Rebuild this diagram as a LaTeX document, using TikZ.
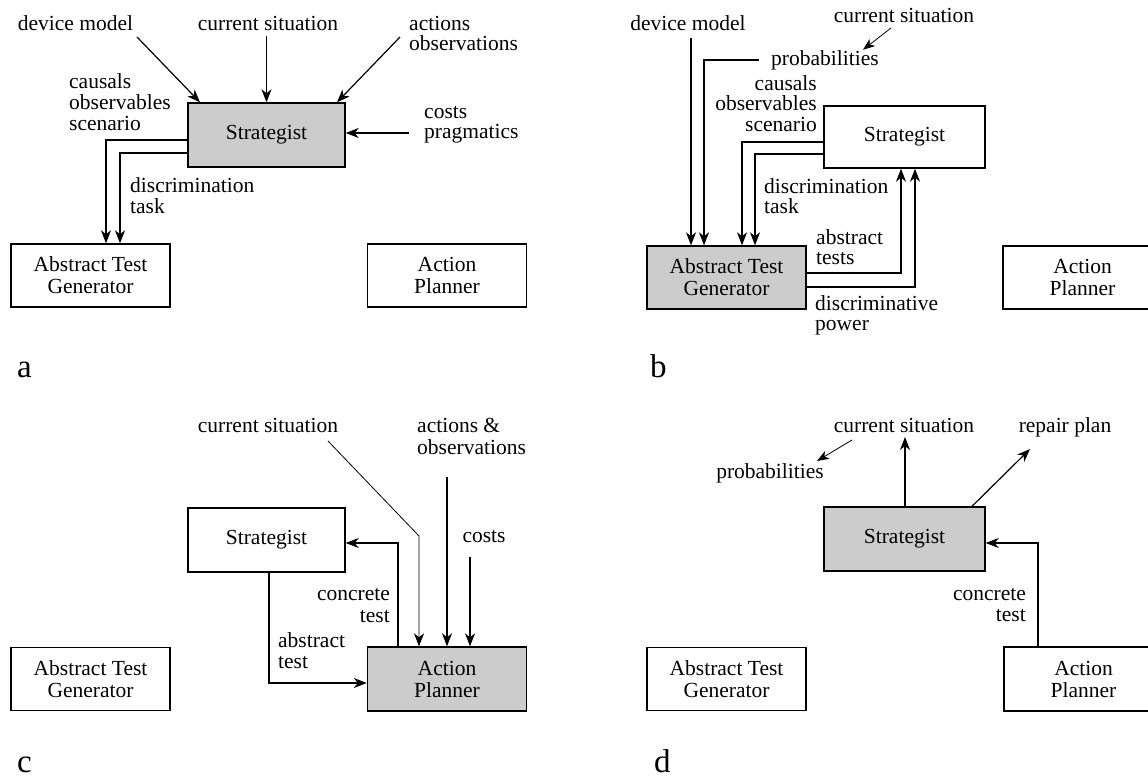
\documentclass[tikz,border=0pt]{standalone}
\usepackage{fontspec}
\setmainfont{Liberation Serif}
\usetikzlibrary{arrows.meta}
\newcommand\dgfont{\fontsize{21.5}{22}\selectfont}
\newcommand\dglabelfont{\fontsize{33}{34}\selectfont}
\tikzset{
  box/.style={draw, line width=1.4pt, minimum width=159pt, minimum height=63pt,
              inner sep=0pt, align=center, font=\dgfont, fill=white},
  shaded/.style={fill=black!20},
  txt/.style={inner sep=0pt, text height=15pt, text depth=5pt, font=\dgfont},
  panellbl/.style={inner sep=0pt, font=\dglabelfont, anchor=base west},
  arr/.style={-{Stealth[length=13pt,width=10pt,inset=4pt]}, line width=1.2pt},
  thinarr/.style={-{Stealth[length=12pt,width=9pt,inset=3.5pt]}, line width=0.8pt},
}
\begin{document}
\begin{tikzpicture}[x=1pt, y=-1pt]
\useasboundingbox (0,0) rectangle (1148,779);
\clip (0,0) rectangle (1148,779);

% ---------------- panel a ----------------
\node[box, shaded, minimum width=157pt, minimum height=64pt] (Sa) at (266.5,135) {Strategist};
\node[box] (ATGa) at (90.5,275.5) {Abstract Test\\Generator};
\node[box] (APa) at (447,275.5) {Action\\Planner};

\node[txt] (a-dm) at (75.5,25) {device model};
\node[txt] (a-cs) at (268,25) {current situation};
\node[txt, anchor=west] (a-act) at (409,25) {actions};
\node[txt, anchor=west] (a-obs) at (409,45) {observations};
\node[txt, anchor=west] (a-cost) at (424,113) {costs};
\node[txt, anchor=west] (a-prag) at (424,133) {pragmatics};
\node[txt, anchor=west] (a-caus) at (69,83) {causals};
\node[txt, anchor=west] (a-obsv) at (69,104) {observables};
\node[txt, anchor=west] (a-scen) at (69,125) {scenario};
\node[txt, anchor=west] (a-disc) at (130,187) {discrimination};
\node[txt, anchor=west] (a-task) at (130,208) {task};

\draw[arr] (137,37) -- (Sa.north west -| 200,0);
\draw[arr] (Sa.north |- 0,36) -- (Sa.north);
\draw[arr] (400,37) -- (Sa.north east -| 337,0);
\draw[arr] (a-prag.west) ++(-15,0) -- (Sa.east |- 0,133);
\draw[arr] (Sa.west |- 0,140) -| (ATGa.north -| 106,0);
\draw[arr] (Sa.west |- 0,153) -| (ATGa.north -| 120,0);

\node[panellbl] (la) at (17,377) {a};

% ---------------- panel b ----------------
\node[box, minimum width=161pt, minimum height=62pt] (Sb) at (904.5,137) {Strategist};
\node[box, shaded] (ATGb) at (726.5,277.5) {Abstract Test\\Generator};
\node[box] (APb) at (1082.5,277.5) {Action\\Planner};

\node[txt] (b-dm) at (688,25) {device model};
\node[txt] (b-cs) at (904,17) {current situation};
\node[txt, anchor=west] (b-prob) at (771,60) {probabilities};
\node[txt, anchor=east] (b-caus) at (817,85) {causals};
\node[txt, anchor=east] (b-obsv) at (817,105) {observables};
\node[txt, anchor=east] (b-scen) at (817,126) {scenario};
\node[txt, anchor=west] (b-disc) at (764,188) {discrimination};
\node[txt, anchor=west] (b-task) at (764,208) {task};
\node[txt, anchor=west] (b-abs) at (816,239) {abstract};
\node[txt, anchor=west] (b-tests) at (816,259) {tests};
\node[txt, anchor=west] (b-dpow) at (815,305) {discriminative};
\node[txt, anchor=west] (b-pow) at (815,325) {power};

\draw[thinarr] (891,28) -- (b-prob.north -| 863,0);
\draw[arr] (691,38) -- (ATGb.north -| 691,0);
\draw[arr] (b-prob.west) ++(-12,0) -| (ATGb.north -| 704,0);
\draw[arr] (Sb.west |- 0,142) -| (ATGb.north -| 742,0);
\draw[arr] (Sb.west |- 0,154) -| (ATGb.north -| 755,0);
\draw[arr] (ATGb.east |- 0,273) -| (Sb.south -| 901,0);
\draw[arr] (ATGb.east |- 0,287) -| (Sb.south -| 915,0);

\node[panellbl] (lb) at (650,377) {b};

% ---------------- panel c ----------------
\node[box, minimum width=157pt, minimum height=64pt] (Sc) at (266.5,540) {Strategist};
\node[box] (ATGc) at (90.5,679) {Abstract Test\\Generator};
\node[box, shaded, minimum height=64pt] (APc) at (447,679) {Action\\Planner};

\node[txt] (c-cs) at (268,427) {current situation};
\node[txt, anchor=west] (c-act) at (417,427) {actions \&};
\node[txt, anchor=west] (c-obs) at (417,449) {observations};
\node[txt] (c-cost) at (484,537) {costs};
\node[txt, anchor=east] (c-conc) at (390,595) {concrete};
\node[txt, anchor=east] (c-ctest) at (390,617) {test};
\node[txt, anchor=west] (c-abs) at (278,642) {abstract};
\node[txt, anchor=west] (c-atest) at (278,663) {test};

\draw[arr, line width=0.8pt] (328,441) -- (419,536) -- (APc.north -| 419,0);
\draw[arr] (447,477) -- (APc.north -| 447,0);
\draw[arr] (470,557) -- (APc.north -| 470,0);
\draw[arr] (APc.north -| 398,0) |- (Sc.east |- 0,543);
\draw[arr] (Sc.south -| 269,0) |- (APc.west |- 0,683);

\node[panellbl] (lc) at (17,772) {c};

% ---------------- panel d ----------------
\node[box, shaded, minimum width=161pt, minimum height=64pt] (Sd) at (904.5,539) {Strategist};
\node[box] (ATGd) at (726.5,679) {Abstract Test\\Generator};
\node[box, minimum height=64pt] (APd) at (1083.5,679) {Action\\Planner};

\node[txt] (d-cs) at (904,427) {current situation};
\node[txt] (d-rep) at (1065,427) {repair plan};
\node[txt] (d-prob) at (770,473) {probabilities};
\node[txt, anchor=east] (d-conc) at (1026,595) {concrete};
\node[txt, anchor=east] (d-ctest) at (1026,616) {test};

\draw[thinarr] (852,440) -- (817,461);
\draw[arr] (Sd.north -| 905,0) -- (905,437);
\draw[arr] (Sd.north -| 972,0) -- (1030,449);
\draw[arr] (APd.north -| 1038,0) |- (Sd.east |- 0,543);

\node[panellbl] (ld) at (654,772) {d};
\end{tikzpicture}
\end{document}
